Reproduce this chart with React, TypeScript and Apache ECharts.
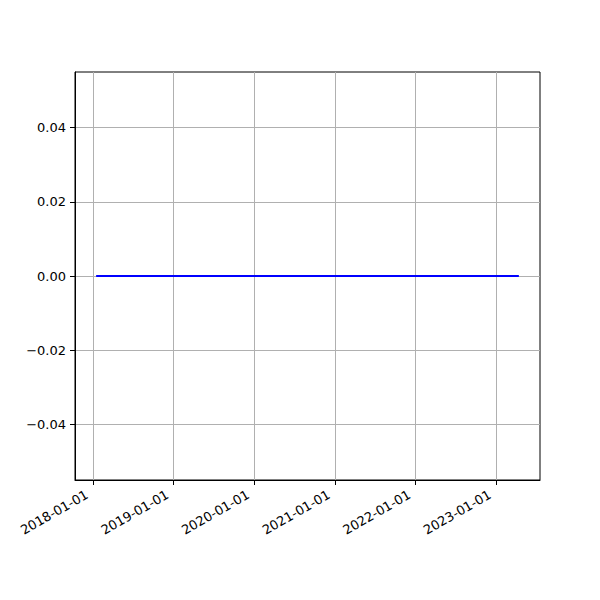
import React, { useEffect, useRef } from "react";
import * as echarts from "echarts";

const dates: string[] = ["2018-01-15", "2023-04-15"];
const values: number[] = [0, 0];
const xTickDates: string[] = ["2018-01-01", "2019-01-01", "2020-01-01", "2021-01-01", "2022-01-01", "2023-01-01"];
const yTicks: number[] = [-0.04, -0.02, 0, 0.02, 0.04];
const yMin = -0.055;
const yMax = 0.055;

const ts = (s: string) => {
  const [y, m, d] = s.split("-").map(Number);
  return Date.UTC(y, m - 1, d);
};

export default function App() {
  const ref = useRef<HTMLDivElement>(null);
  useEffect(() => {
    if (!ref.current) return;
    const chart = echarts.init(ref.current, undefined, { renderer: "svg" });
    const t0 = ts(dates[0]);
    const t1 = ts(dates[dates.length - 1]);
    const pad = (t1 - t0) * 0.05;
    const xTicks = xTickDates.map(ts);
    const pad2 = (n: number) => (n < 10 ? "0" + n : "" + n);
    const font = { fontFamily: "DejaVu Sans", fontSize: 13, color: "#000" };
    chart.setOption({
      animation: false,
      grid: {
        left: 75,
        right: 60,
        top: 72,
        bottom: 120,
        show: true,
        borderColor: "#000",
        borderWidth: 1,
        backgroundColor: "#fff",
      },
      xAxis: {
        type: "value",
        min: t0 - pad,
        max: t1 + pad,
        axisLine: { show: true, onZero: false, lineStyle: { color: "#000", width: 1 } },
        axisTick: {
          show: true,
          length: 5,
          lineStyle: { color: "#000", width: 1 },
          customValues: xTicks,
        },
        splitLine: { show: true, lineStyle: { color: "#b0b0b0", width: 1 } },
        axisLabel: {
          ...font,
          rotate: 30,
          margin: 10,
          padding: [0, 7, 0, 0],
          customValues: xTicks,
          formatter: (v: number) => {
            const d = new Date(v);
            return `${d.getUTCFullYear()}-${pad2(d.getUTCMonth() + 1)}-${pad2(d.getUTCDate())}`;
          },
        },
      },
      yAxis: {
        type: "value",
        min: yMin,
        max: yMax,
        axisLine: { show: true, onZero: false, lineStyle: { color: "#000", width: 1 } },
        axisTick: {
          show: true,
          length: 5,
          lineStyle: { color: "#000", width: 1 },
          customValues: yTicks,
        },
        splitLine: { show: true, lineStyle: { color: "#b0b0b0", width: 1 } },
        axisLabel: {
          ...font,
          margin: 9,
          customValues: yTicks,
          formatter: (v: number) => v.toFixed(2).replace("-", "\u2212"),
        },
      },
      series: [
        {
          type: "line",
          data: dates.map((d, i) => [ts(d), values[i]]),
          showSymbol: false,
          lineStyle: { color: "#0000ff", width: 2 },
          itemStyle: { color: "#0000ff" },
        },
      ],
    });
    return () => chart.dispose();
  }, []);
  return <div ref={ref} style={{ width: 600, height: 600, margin: -8 }} />;
}
